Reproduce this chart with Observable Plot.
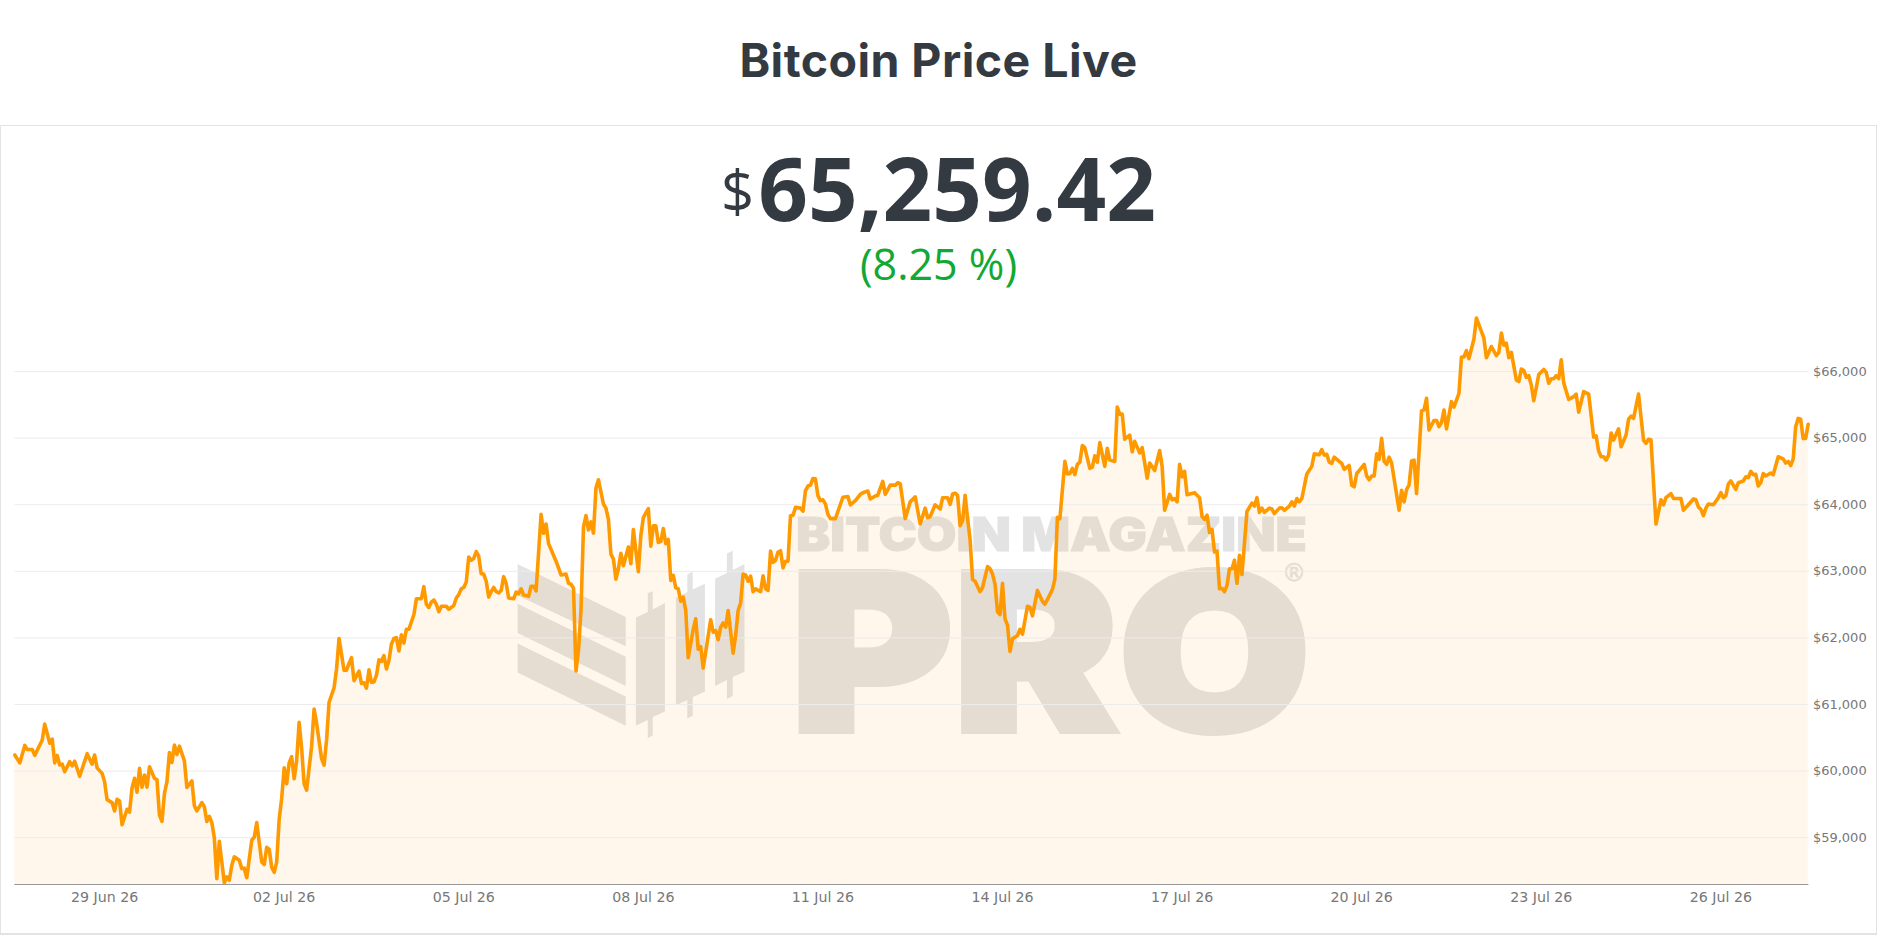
<!DOCTYPE html>
<html>
<head>
<meta charset="utf-8">
<script src="https://cdn.jsdelivr.net/npm/d3@7"></script>
<script src="https://cdn.jsdelivr.net/npm/@observablehq/plot@0.6"></script>
<style>
html,body{margin:0;padding:0;background:#fff;width:1877px;height:935px;overflow:hidden}
#page{position:relative;width:1877px;height:935px}
#title{position:absolute;left:0;top:32px;width:1877px;text-align:center;font:700 46.5px/56px Inter,sans-serif;color:#343a42;letter-spacing:.45px;margin:0}
#card{position:absolute;left:0;top:125px;width:1875px;height:807px;border:1px solid #e3e3e3;border-width:1.5px 1.5px 2px 1.5px;box-sizing:content-box}
#price{position:absolute;left:0;top:134px;width:1877px;text-align:center;color:#343a42;font-family:"Open Sans",sans-serif;line-height:106px;white-space:nowrap}
#price .cur{font-size:58px;font-weight:400;position:relative;top:-8px;margin-right:4px}
#price .val{font-size:87px;font-weight:700}
#chg{position:absolute;left:0;top:238px;width:1877px;text-align:center;color:#12a833;font:400 43px/52px "Open Sans",sans-serif}
#wm{position:absolute;left:0;top:0}
#chart{position:absolute;left:0;top:300px}
</style>
</head>
<body>
<div id="page">
<h1 id="title">Bitcoin Price Live</h1>
<div id="card"></div>
<div id="price"><span class="cur">$</span><span class="val">65,259.42</span></div>
<div id="chg">(8.25 %)</div>
<svg id="wm" width="1877" height="935" xmlns="http://www.w3.org/2000/svg" fill="#e3e3e3">
  <polygon points="517.6,564 625.7,617 625.7,646.3 517.6,595.4"/>
  <polygon points="517.6,603.7 625.7,656.8 625.7,686 517.6,633"/>
  <polygon points="517.6,643.4 625.7,696.5 625.7,725.7 517.6,672.6"/>
  <polygon points="635.9,617.5 647.8,612 647.8,593.3 652.7,591.2 652.7,609.5 664.9,602.9 664.9,711.5 652.7,717 652.7,735.3 647.8,738.2 647.8,720 635.9,725.7"/>
  <polygon points="675.9,597.5 687.3,592 687.3,574.5 692.7,571.6 692.7,589.5 704.9,583.7 704.9,691.4 692.7,697 692.7,715.7 687.3,718.6 687.3,700 675.9,705.2"/>
  <polygon points="715.1,578.7 726.9,573 726.9,553.6 732.7,550.7 732.7,570 744.5,564 744.5,671.8 732.7,677 732.7,696 726.9,699 726.9,680 715.1,686"/>
  <text x="796" y="551" font-family="Inter,sans-serif" font-weight="900" font-size="47" textLength="511" lengthAdjust="spacingAndGlyphs" stroke="#e3e3e3" stroke-width="1">BITCOIN MAGAZINE</text>
  <text x="790.5" y="731" font-family="Inter,sans-serif" font-weight="900" font-size="218" textLength="520" lengthAdjust="spacingAndGlyphs" stroke="#e3e3e3" stroke-width="6">PRO</text>
  <text x="1294" y="581" text-anchor="middle" font-family="'DejaVu Sans',sans-serif" font-size="24" stroke="#e3e3e3" stroke-width=".6">®</text>
</svg>
<div id="chart"></div>
</div>
<script>
// hours after 29 Jun 2026 00:00 UTC, at the turning points of the line
const hourOffsets = [
-36,-34,-32,-31,-29,-28,-25,-24,-22,-21,
-20,-19,-18,-17,-16,-14,-13,-12,-10,-7,
-5,-4,-3,-1,0,1,3,4,5,6,
7,9,10,11,12,13,14,15,16,17,
18,20,21,22,23,24,25,26,27,28,
29,30,32,33,35,36,37,39,40,41,
42,43,44,45,46,48,49,50,51,52,
54,55,56,57,59,60,61,63,64,65,
66,67,68,69,70,71,72,73,74,75,
76,77,78,79,80,81,83,84,85,87,
88,89,90,92,93,94,96,97,98,99,
100,102,103,104,105,106,107,108,109,110,
111,112,113,114,115,116,117,118,119,120,
121,122,124,125,127,128,129,130,131,132,
133,134,135,137,138,140,141,142,143,144,
145,146,147,148,149,150,151,152,153,154,
155,156,157,158,159,160,161,162,164,165,
166,167,168,170,171,172,173,175,176,177,
178,181,183,185,186,187,188,189,190,191,
192,193,194,195,196,197,198,200,201,202,
203,204,205,206,207,208,210,211,212,214,
215,216,218,219,220,221,222,223,224,225,
226,227,228,229,230,231,232,233,234,236,
237,238,239,240,243,244,245,246,247,248,
249,250,252,253,254,255,256,257,258,259,
260,261,263,264,265,266,267,268,269,270,
271,272,273,274,275,276,277,279,280,281,
282,283,284,285,286,287,288,289,290,291,
293,296,298,299,301,303,304,306,307,309,
310,312,313,315,317,318,319,321,323,325,
327,329,330,331,333,335,336,338,339,340,
341,342,343,344,345,346,347,348,349,351,
352,354,355,356,357,358,359,360,361,362,
363,364,366,367,368,370,371,372,374,376,
377,379,380,381,382,383,385,386,387,388,
389,390,391,392,393,395,396,397,398,399,
401,402,403,405,406,407,408,409,411,412,
413,415,416,418,419,421,423,424,425,427,
428,429,430,431,432,433,434,437,439,440,
441,442,443,444,445,446,447,448,449,450,
451,452,453,454,455,456,458,460,461,462,
463,464,465,467,468,469,471,472,473,475,
476,477,478,479,480,482,484,485,487,488,
489,490,491,492,493,495,496,497,499,500,
501,502,503,505,506,507,508,509,510,511,
512,513,514,515,516,519,520,521,522,523,
524,525,526,528,529,530,531,533,534,535,
536,537,538,540,541,543,544,545,546,547,
549,550,553,554,556,558,559,560,561,562,
563,564,566,567,568,569,570,571,572,573,
575,577,578,579,580,581,582,583,584,585,
587,589,590,591,593,595,597,598,599,600,
601,602,603,604,605,607,608,610,611,612,
613,615,617,618,619,620,622,624,625,626,
628,629,632,633,637,638,639,640,641,642,
643,645,647,648,649,650,651,652,654,655,
657,658,659,660,661,662,663,664,665,666,
668,669,671,673,674,675,676,677,678,679,
680,681,682,683];
const prices = [
60242,60123,60386,60324,60324,60236,60468,60706,60418,60480,
60123,60236,60091,60104,59991,60142,60079,60148,59922,60261,
60104,60242,60048,59966,59841,59571,59527,59402,59577,59552,
59195,59427,59383,59747,59891,59684,60041,59759,59941,59759,
60066,59891,59872,59339,59245,59665,59841,60280,60129,60392,
60248,60374,60154,59753,59853,59477,59402,59527,59464,59245,
59320,59226,58994,58385,58944,58323,58411,58360,58586,58712,
58662,58536,58542,58398,58963,59007,59226,58636,58599,58856,
58825,58555,58480,58636,59276,59590,60048,59809,60123,60217,
59885,60154,60731,60342,59809,59715,60374,60932,60719,60186,
60091,60468,61032,61252,61534,61992,61515,61515,61616,61703,
61359,61503,61315,61327,61246,61522,61333,61340,61440,61672,
61647,61735,61534,61660,61910,61992,62004,61804,62048,61923,
62130,62130,62349,62588,62588,62770,62506,62456,62538,62569,
62506,62393,62475,62475,62431,62487,62600,62650,62738,62757,
62839,63215,63165,63196,63297,63227,62964,62958,62851,62613,
62694,62757,62694,62676,62713,62920,62820,62600,62588,62688,
62663,62738,62644,62625,62776,62776,62707,63855,63572,63710,
63416,63152,62945,62958,62820,62807,62745,61503,61816,62412,
63667,63836,63623,63742,63572,64250,64375,64011,63949,63779,
63259,63184,62883,63039,63271,63083,63365,63115,63629,62995,
63541,63805,63943,63378,63685,63685,63434,63447,63641,63416,
63478,62864,62939,62751,62738,62550,62613,62412,61703,62130,
62287,61829,61867,61547,62274,62086,62111,61973,62161,62224,
62161,62412,61772,62036,62412,62525,62958,62945,62851,62926,
62694,62738,62694,62933,62738,62713,63303,63133,63165,63290,
63309,63052,63152,63152,63836,63842,63961,63949,63905,64212,
64281,64294,64394,64388,64137,64062,64074,64012,63855,63792,
63792,64112,64124,63999,64062,64156,64181,64206,64087,64131,
64143,64350,64156,64294,64294,64331,64313,63792,64043,64118,
63710,63949,63805,63823,63999,63936,64106,64106,64005,64162,
64175,64137,63685,63761,64143,63792,63478,62876,62851,62694,
62757,63071,63039,62958,62807,62393,62349,62820,62287,62193,
61797,61986,62036,62130,62055,62475,62462,62331,62713,62550,
62506,62650,62726,62883,63811,63792,64651,64463,64469,64545,
64451,64607,64639,64890,64858,64545,64563,64733,64639,64933,
64576,64846,64670,64651,65467,65360,65360,64984,65046,64795,
64952,64777,64858,64400,64626,64513,64814,64576,63917,64156,
64074,64093,64043,64607,64419,64501,64149,64181,64106,63823,
63779,63842,63585,63629,63290,63303,62738,62745,62694,62788,
63039,63039,63165,62820,63240,62952,63899,64024,63980,64106,
63886,63949,63886,63949,63936,63867,63949,63955,63917,63980,
64043,63980,64093,64043,64093,64463,64576,64764,64752,64827,
64745,64758,64639,64620,64714,64651,64620,64532,64589,64294,
64269,64469,64513,64607,64432,64375,64432,64432,64764,64683,
64996,64651,64607,64714,64626,63917,64218,64043,64231,64294,
64658,64670,64168,65410,65423,65598,65122,65266,65266,65172,
65235,65423,65140,65548,65467,65674,66219,66219,66313,66194,
66489,66803,66501,66207,66376,66238,66288,66577,66395,66426,
66207,66288,65874,65849,66037,66019,65912,65937,65799,65561,
65956,66031,65987,65824,65893,65893,65937,65893,66175,65830,
65580,65623,65661,65391,65699,65661,65015,65034,64808,64720,
64720,64670,64745,65078,64971,65140,64871,65046,65285,65329,
65297,65661,64971,64921,64984,64971,63710,64074,63999,64106,
64168,64093,64093,63917,64087,64074,63968,63930,63836,63949,
64012,63999,64106,64181,64106,64137,64313,64356,64231,64331,
64356,64419,64407,64501,64451,64457,64281,64331,64469,64432,
64476,64451,64720,64689,64626,64651,64589,64689,65172,65297,
65285,64996,64996,65209];
const yTicks = [59000,60000,61000,62000,63000,64000,65000,66000];
const xTickDates = ["2026-06-29","2026-07-02","2026-07-05","2026-07-08","2026-07-11","2026-07-14","2026-07-17","2026-07-20","2026-07-23","2026-07-26"];
const yDomain = [58297, 67067];
const xDomainHours = [-36, 683.3];

const t0 = Date.UTC(2026, 5, 29);
const toDate = h => new Date(t0 + h * 3600000);
const rows = hourOffsets.map((h, i) => ({date: toDate(h), price: prices[i]}));
const fmt = d3.utcFormat("%d %b %y");

const chart = Plot.plot({
  width: 1877,
  height: 620,
  marginLeft: 14.3,
  marginRight: 68.6,
  marginTop: 0,
  marginBottom: 36,
  style: {background: "transparent", fontFamily: "'DejaVu Sans',sans-serif", fontSize: "13px", color: "#666"},
  x: {type: "utc", domain: xDomainHours.map(toDate)},
  y: {domain: yDomain},
  marks: [
    Plot.areaY(rows, {x: "date", y1: yDomain[0], y2: "price", fill: "#ff9800", fillOpacity: 0.08}),
    Plot.ruleY(yTicks, {stroke: "#ececec", strokeWidth: 1}),
    Plot.ruleY([yDomain[0]], {stroke: "#999", strokeWidth: 1}),
    Plot.line(rows, {x: "date", y: "price", stroke: "#ff9900", strokeWidth: 3.6, curve: "linear"}),
    Plot.axisX({ticks: xTickDates.map(d => new Date(d + "T00:00:00Z")), tickSize: 0, tickPadding: 7, tickFormat: fmt, label: null, fill: "#777", fontSize: 14.2}),
    Plot.axisY({anchor: "right", ticks: yTicks, tickSize: 0, tickPadding: 4, tickFormat: d => "$" + d3.format(",")(d), label: null, fill: "#777"})
  ]
});
document.getElementById("chart").appendChild(chart);
</script>
</body>
</html>
